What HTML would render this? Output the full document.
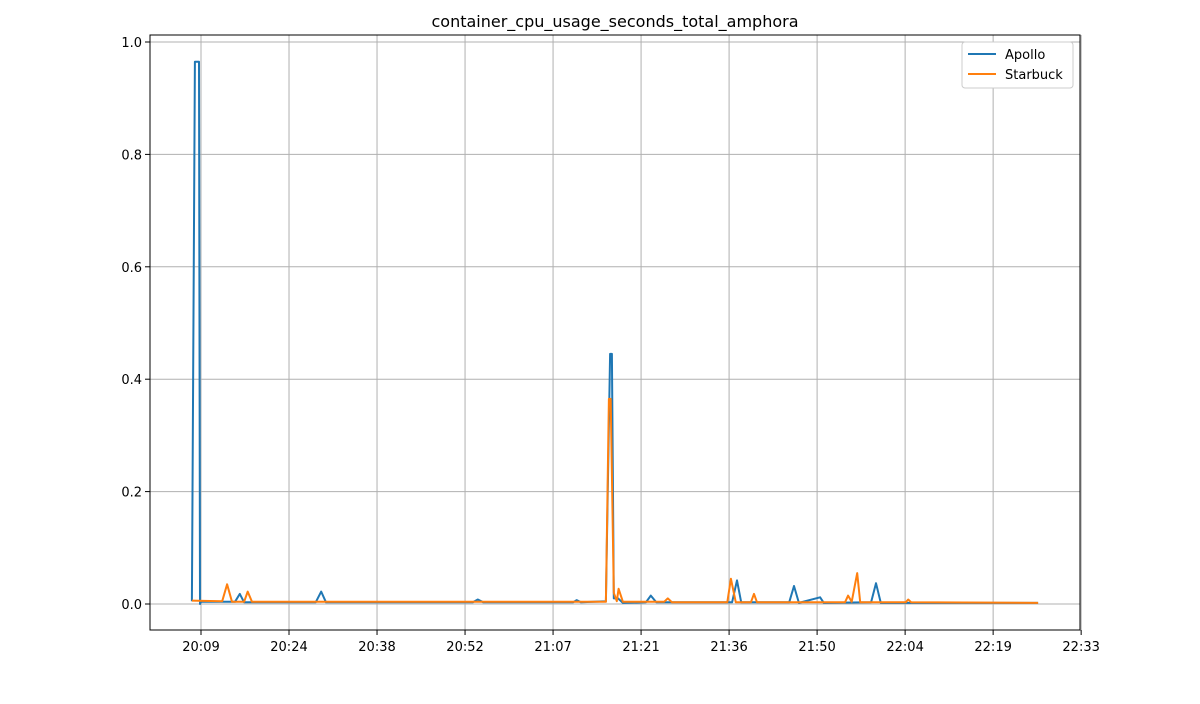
<!DOCTYPE html>
<html><head><meta charset="utf-8"><style>
body{margin:0;background:#fff;font-family:"DejaVu Sans","Liberation Sans",sans-serif;}
svg text{font-family:"DejaVu Sans","Liberation Sans",sans-serif;}
</style></head><body>
<svg id="chart" width="1200" height="700" xmlns="http://www.w3.org/2000/svg">
<rect width="1200" height="700" fill="#fff"/>
<g id="grid"></g>
<g id="series"></g>
<rect x="150" y="35" width="930" height="595" fill="none" stroke="#000" stroke-width="1"/>
<g id="ticks"></g>
<text x="615" y="27" text-anchor="middle" font-size="16">container_cpu_usage_seconds_total_amphora</text>
<g>
<rect x="962" y="42" width="111" height="46" fill="#fff" stroke="#ccc" rx="3"/>
<line x1="968" y1="54" x2="996" y2="54" stroke="#1f77b4" stroke-width="2"/>
<text x="1005" y="59" font-size="13">Apollo</text>
<line x1="968" y1="74" x2="996" y2="74" stroke="#ff7f0e" stroke-width="2"/>
<text x="1005" y="79" font-size="13">Starbuck</text>
</g>
</svg>
<script>
const xTickLabels=["20:09","20:24","20:38","20:52","21:07","21:21","21:36","21:50","22:04","22:19","22:33"];
const yTickValues=[0,0.2,0.4,0.6,0.8,1.0];
const apolloT=[-1.5,-1.0,-0.33,-0.16,0,5.6,6.4,7.1,18.9,19.8,20.6,44.8,45.6,46.5,61.3,61.9,62.6,66.7,67.4,67.7,68.0,68.7,69.5,73.3,74.1,75.0,87.5,88.3,89.0,96.9,97.7,98.5,102,102.6,110.4,111.2,112,137.9];
const apolloV=[0.005,0.965,0.965,0.0,0.004,0.004,0.018,0.003,0.003,0.022,0.003,0.003,0.008,0.003,0.003,0.007,0.003,0.005,0.445,0.445,0.01,0.01,0.002,0.003,0.015,0.003,0.003,0.042,0.003,0.003,0.032,0.002,0.012,0.002,0.003,0.037,0.002,0.002];
const starT=[-1.5,3.5,4.3,5.1,7.1,7.7,8.4,66.7,67.2,67.5,68,68.5,68.8,69.5,76.3,76.9,77.6,86.7,87.3,88.1,90.6,91.1,91.6,106.1,106.6,107.2,108.1,108.6,116.1,116.5,117,137.9];
const starV=[0.006,0.005,0.035,0.004,0.004,0.022,0.004,0.004,0.365,0.365,0.02,0.005,0.027,0.004,0.004,0.01,0.003,0.003,0.045,0.003,0.003,0.018,0.003,0.003,0.015,0.004,0.055,0.003,0.003,0.008,0.003,0.002];
const NS="http://www.w3.org/2000/svg";
const xs=t=>201+t*6.07;
const ys=v=>604-v*562;
const grid=document.getElementById('grid'),ticks=document.getElementById('ticks'),ser=document.getElementById('series');
function mk(tag,attrs,parent){const e=document.createElementNS(NS,tag);for(const k in attrs)e.setAttribute(k,attrs[k]);parent.appendChild(e);return e;}
xTickLabels.forEach((lab,i)=>{
  const x=xs(i*14.5);
  const g=mk('line',{x1:x,x2:x,y1:35,y2:630,stroke:'#b0b0b0','stroke-width':1},grid);
  
  
  mk('line',{x1:x,x2:x,y1:630,y2:635,stroke:'#000'},ticks);
  const t=mk('text',{x:x,y:651,'text-anchor':'middle','font-size':13},ticks);
  t.textContent=lab;
  
  
});
yTickValues.forEach(v=>{
  const y=ys(v);
  const g=mk('line',{x1:150,x2:1080,y1:y,y2:y,stroke:'#b0b0b0','stroke-width':1},grid);
  
  
  mk('line',{x1:145,x2:150,y1:y,y2:y,stroke:'#000'},ticks);
  const t=mk('text',{x:142,y:y+5,'text-anchor':'end','font-size':13},ticks);
  t.textContent=v.toFixed(1);
  
  
});
function line(T,V,color,name){
  const d=T.map((t,i)=>(i?'L':'M')+xs(t).toFixed(1)+','+ys(V[i]).toFixed(1)).join('');
  const p=mk('path',{d:d,fill:'none',stroke:color,'stroke-width':2,'stroke-linejoin':'round'},ser);
  
  
}
line(apolloT,apolloV,'#1f77b4','apollo-line');
line(starT,starV,'#ff7f0e','starbuck-line');
</script>
</body></html>
